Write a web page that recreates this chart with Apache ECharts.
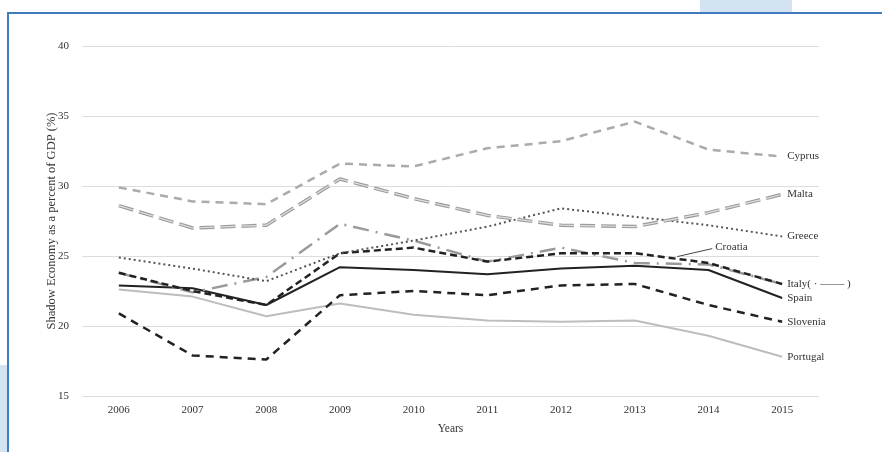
<!DOCTYPE html>
<html>
<head>
<meta charset="utf-8">
<script src="https://cdn.jsdelivr.net/npm/echarts@6/dist/echarts.min.js"></script>
<style>
html,body{margin:0;padding:0;background:#fff;}
#wrap{position:relative;width:882px;height:452px;overflow:hidden;}
#chart{position:absolute;left:0;top:0;width:882px;height:452px;}
.frameTop{position:absolute;left:7px;top:12px;width:875px;height:2px;background:#3f7cbf;}
.frameLeft{position:absolute;left:7px;top:12px;width:2px;height:440px;background:#3f7cbf;}
.patchL{position:absolute;left:0;top:365px;width:7px;height:87px;background:#d3e3f2;}
.patchT{position:absolute;left:700px;top:0;width:92px;height:12px;background:#d3e3f2;}
</style>
</head>
<body>
<div id="wrap">
<div id="chart"></div>
<div class="patchL"></div><div class="patchT"></div>
<div class="frameTop"></div><div class="frameLeft"></div>
</div>
<script>
const years = ['2006','2007','2008','2009','2010','2011','2012','2013','2014','2015'];
const yTicks = [15, 20, 25, 30, 35, 40];
const cyprus   = [29.9, 28.9, 28.7, 31.6, 31.4, 32.7, 33.2, 34.6, 32.6, 32.1];
const malta    = [28.6, 27.0, 27.2, 30.5, 29.1, 27.9, 27.2, 27.1, 28.1, 29.4];
const greece   = [24.9, 24.1, 23.2, 25.2, 26.1, 27.1, 28.4, 27.8, 27.2, 26.4];
const croatia  = [23.8, 22.5, 21.5, 25.2, 25.6, 24.6, 25.2, 25.2, 24.5, 23.0];
const italy    = [23.8, 22.4, 23.5, 27.3, 26.1, 24.6, 25.6, 24.5, 24.4, 23.0];
const spain    = [22.9, 22.7, 21.5, 24.2, 24.0, 23.7, 24.1, 24.3, 24.0, 22.0];
const slovenia = [20.9, 17.9, 17.6, 22.2, 22.5, 22.2, 22.9, 23.0, 21.5, 20.3];
const portugal = [22.6, 22.1, 20.7, 21.6, 20.8, 20.4, 20.3, 20.4, 19.3, 17.8];

const FONT = 'Liberation Serif';
const chart = echarts.init(document.getElementById('chart'));

function mk(name, data, color, width, type, labelText) {
  return {
    name: name, type: 'line', data: data, symbol: 'none', silent: true,
    lineStyle: { color: color, width: width, type: type, cap: 'butt' },
    endLabel: labelText === null ? { show: false } : {
      show: true, formatter: labelText, color: '#333', fontFamily: FONT, fontSize: 11, distance: 5,
      rich: {
        a: { color: '#333', fontFamily: FONT, fontSize: 11 },
        b: { color: '#8a8a8a', fontFamily: FONT, fontSize: 12, fontWeight: 'bold' }
      }
    },
    animation: false
  };
}

chart.setOption({
  animation: false,
  backgroundColor: 'transparent',
  grid: { left: 82, top: 46, width: 737, height: 350 },
  xAxis: {
    type: 'category', data: years, boundaryGap: true,
    axisLine: { show: false }, axisTick: { show: false },
    axisLabel: { color: '#333', fontFamily: FONT, fontSize: 11, margin: 9 },
    name: 'Years', nameLocation: 'middle', nameGap: 27, nameMoveOverlap: false,
    nameTextStyle: { color: '#333', fontFamily: FONT, fontSize: 11.5 }
  },
  yAxis: {
    type: 'value', min: yTicks[0], max: yTicks[yTicks.length - 1], interval: 5,
    axisLine: { show: false }, axisTick: { show: false },
    axisLabel: { color: '#333', fontFamily: FONT, fontSize: 11, margin: 13 },
    splitLine: { lineStyle: { color: '#dcdcdc', width: 1 } },
    name: 'Shadow Economy as a percent of GDP (%)', nameLocation: 'middle', nameGap: 24, nameMoveOverlap: false,
    nameTextStyle: { color: '#333', fontFamily: FONT, fontSize: 12.5 }
  },
  series: [
    mk('Portugal', portugal, '#bdbdbd', 2, 'solid', 'Portugal'),
    mk('Slovenia', slovenia, '#222', 2.5, [8, 6], 'Slovenia'),
    mk('Spain', spain, '#222', 2, 'solid', 'Spain'),
    mk('Italy', italy, '#9a9a9a', 2.5, [16, 7, 2, 7], '{a|Italy( · }{b|——}{a| )}'),
    mk('Croatia', croatia, '#222', 2.5, [7, 4], null),
    mk('Greece', greece, '#555', 2, [2, 3], 'Greece'),
    mk('Malta', malta, '#9c9c9c', 3.5, [15, 6], 'Malta'),
    mk('MaltaInner', malta, '#dedede', 1.2, [15, 6], null),
    mk('Cyprus', cyprus, '#ababab', 2.5, [8, 6], 'Cyprus')
  ]
});

// Croatia callout label with leader line
const i0 = 7, i1 = 8, t = 0.55;
const pA = chart.convertToPixel({ gridIndex: 0 }, [i0, croatia[i0]]);
const pB = chart.convertToPixel({ gridIndex: 0 }, [i1, croatia[i1]]);
const px = pA[0] + (pB[0] - pA[0]) * t;
const py = pA[1] + (pB[1] - pA[1]) * t;
chart.setOption({
  graphic: [
    { type: 'line', shape: { x1: px + 2, y1: py - 2, x2: px + 37, y2: py - 10 },
      style: { stroke: '#444', lineWidth: 1 }, silent: true },
    { type: 'text', x: px + 40, y: py - 11,
      style: { text: 'Croatia', fill: '#333', font: '11px "Liberation Serif"', textVerticalAlign: 'middle' }, silent: true }
  ]
});
</script>
</body>
</html>
